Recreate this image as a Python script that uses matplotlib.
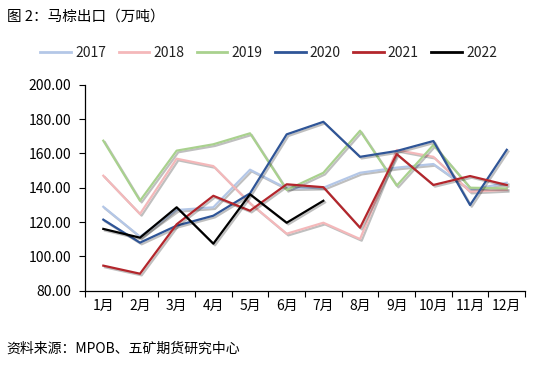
import matplotlib
matplotlib.use('Agg')
import matplotlib.pyplot as plt
import matplotlib.patheffects as pe

plt.rcParams['font.family'] = ['Noto Sans CJK SC', 'DejaVu Sans']

months = ['1月', '2月', '3月', '4月', '5月', '6月', '7月', '8月', '9月', '10月', '11月', '12月']

# 马棕出口 (万吨)
y2017 = [128.9, 111.5, 127.0, 128.6, 150.5, 139.6, 140.0, 148.7, 151.7, 153.8, 138.7, 142.9]
y2018 = [147.0, 124.7, 156.9, 152.6, 131.0, 113.2, 119.6, 110.1, 162.0, 158.0, 137.7, 138.7]
y2019 = [167.4, 132.4, 161.6, 165.3, 171.7, 138.7, 148.7, 173.2, 141.2, 164.9, 140.0, 139.6]
y2020 = [121.4, 108.0, 117.9, 123.7, 136.7, 171.1, 178.4, 158.0, 161.4, 167.2, 129.9, 162.1]
y2021 = [94.6, 89.9, 118.7, 135.3, 126.6, 142.0, 140.3, 116.7, 159.6, 141.6, 146.8, 141.6]
y2022 = [116.0, 110.9, 128.6, 107.4, 136.2, 119.6, 132.4]

series = [
    ('2017', y2017, '#B4C7E7'),
    ('2018', y2018, '#F4B8BA'),
    ('2019', y2019, '#A9D18E'),
    ('2020', y2020, '#2F5597'),
    ('2021', y2021, '#B3262C'),
    ('2022', y2022, '#000000'),
]

fig = plt.figure(figsize=(5.43, 3.70), dpi=100)
ax = fig.add_axes([0.1565, 0.2143, 0.8105, 0.5567])

shadow = [pe.SimpleLineShadow(offset=(1.2, -1.2), alpha=0.25, rho=0.6), pe.Normal()]
for name, vals, col in series:
    ax.plot(range(len(vals)), vals, color=col, lw=1.6, label=name, path_effects=shadow)

ax.set_xlim(-0.5, 11.5)
ax.set_ylim(80, 200)
ax.set_yticks(range(80, 201, 20))
ax.set_yticklabels(['%.2f' % v for v in range(80, 201, 20)], fontsize=10)

# 刻度线放在类别边界上, 标签放在中间
ax.set_xticks([i - 0.5 for i in range(13)])
ax.set_xticklabels([])
ax.set_xticks(range(12), minor=True)
ax.set_xticklabels(months, minor=True, fontsize=10)
ax.tick_params(axis='x', which='minor', length=0, pad=6)
ax.tick_params(axis='both', which='major', direction='out', length=4, width=0.8, colors='black')
ax.tick_params(axis='y', pad=6)

for s in ['top', 'right']:
    ax.spines[s].set_visible(False)
for s in ['left', 'bottom']:
    ax.spines[s].set_color('black')
    ax.spines[s].set_linewidth(0.9)

leg = fig.legend(loc='center', bbox_to_anchor=(0.495, 0.857), ncol=6, frameon=False,
                 fontsize=10, handlelength=2.2, handletextpad=0.3, columnspacing=0.9)
for h in leg.legend_handles:
    h.set_path_effects([])
    h.set_linewidth(2.0)
for t in leg.get_texts():
    t.set_color('#222222')

fig.text(0.012, 0.955, '图 2：马棕出口（万吨）', fontsize=10.5, va='center', ha='left')
fig.text(0.012, 0.057, '资料来源：MPOB、五矿期货研究中心', fontsize=10, va='center', ha='left')

plt.savefig('out.png', dpi=100)
